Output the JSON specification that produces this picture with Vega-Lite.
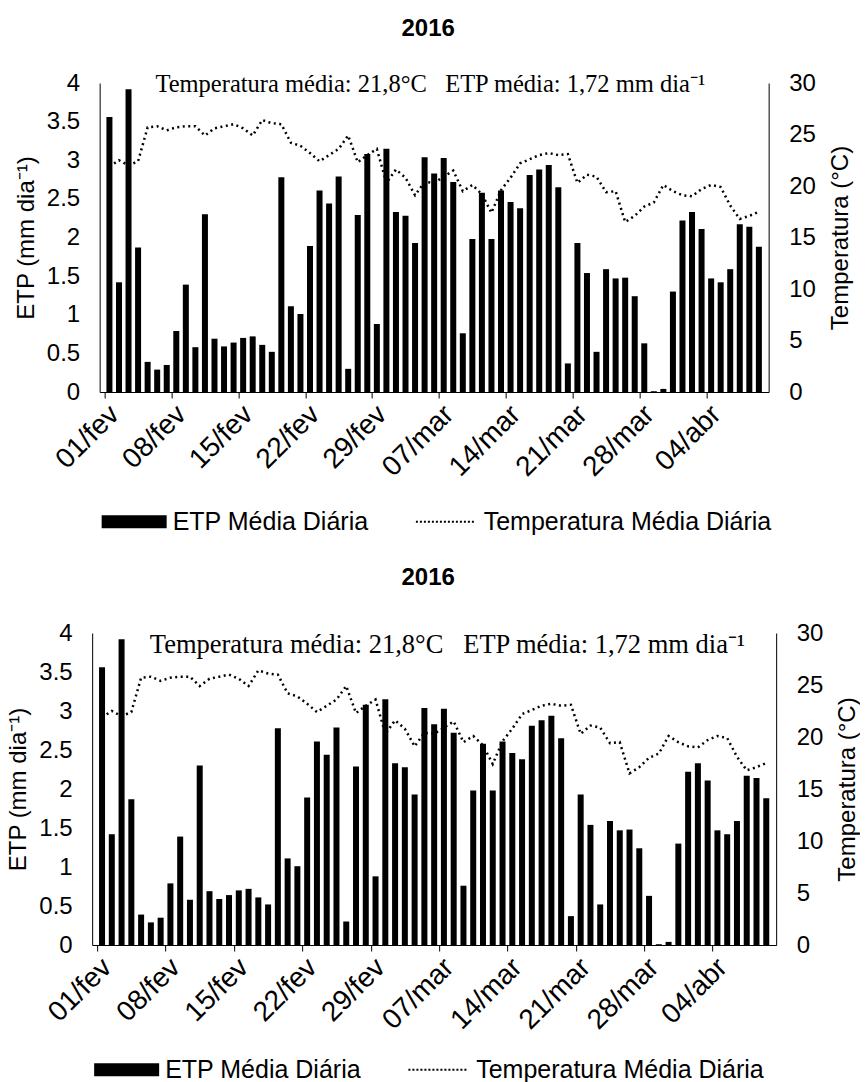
{
  "$schema": "https://vega.github.io/schema/vega-lite/v6.json",
  "padding": {"left": 6, "top": 17, "right": 0, "bottom": 0},
  "background": "white",
  "datasets": {
    "diario": [
      {"dia": 1, "data": "01/fev", "etp": 3.56, "temp": 21.9},
      {"dia": 2, "data": "02/fev", "etp": 1.42, "temp": 22.5},
      {"dia": 3, "data": "03/fev", "etp": 3.92, "temp": 22.0},
      {"dia": 4, "data": "04/fev", "etp": 1.87, "temp": 22.4},
      {"dia": 5, "data": "05/fev", "etp": 0.39, "temp": 25.7},
      {"dia": 6, "data": "06/fev", "etp": 0.29, "temp": 25.8},
      {"dia": 7, "data": "07/fev", "etp": 0.35, "temp": 25.4},
      {"dia": 8, "data": "08/fev", "etp": 0.79, "temp": 25.7},
      {"dia": 9, "data": "09/fev", "etp": 1.39, "temp": 25.8},
      {"dia": 10, "data": "10/fev", "etp": 0.58, "temp": 25.8},
      {"dia": 11, "data": "11/fev", "etp": 2.30, "temp": 24.9},
      {"dia": 12, "data": "12/fev", "etp": 0.69, "temp": 25.6},
      {"dia": 13, "data": "13/fev", "etp": 0.59, "temp": 25.8},
      {"dia": 14, "data": "14/fev", "etp": 0.64, "temp": 26.0},
      {"dia": 15, "data": "15/fev", "etp": 0.70, "temp": 25.6},
      {"dia": 16, "data": "16/fev", "etp": 0.72, "temp": 24.9},
      {"dia": 17, "data": "17/fev", "etp": 0.61, "temp": 26.4},
      {"dia": 18, "data": "18/fev", "etp": 0.52, "temp": 26.1},
      {"dia": 19, "data": "19/fev", "etp": 2.78, "temp": 26.0},
      {"dia": 20, "data": "20/fev", "etp": 1.11, "temp": 24.2},
      {"dia": 21, "data": "21/fev", "etp": 1.01, "temp": 23.9},
      {"dia": 22, "data": "22/fev", "etp": 1.89, "temp": 23.2},
      {"dia": 23, "data": "23/fev", "etp": 2.61, "temp": 22.4},
      {"dia": 24, "data": "24/fev", "etp": 2.44, "temp": 23.0},
      {"dia": 25, "data": "25/fev", "etp": 2.79, "temp": 23.6},
      {"dia": 26, "data": "26/fev", "etp": 0.30, "temp": 24.9},
      {"dia": 27, "data": "27/fev", "etp": 2.29, "temp": 22.3},
      {"dia": 28, "data": "28/fev", "etp": 3.08, "temp": 23.0},
      {"dia": 29, "data": "29/fev", "etp": 0.88, "temp": 23.6},
      {"dia": 30, "data": "01/mar", "etp": 3.15, "temp": 20.3},
      {"dia": 31, "data": "02/mar", "etp": 2.33, "temp": 21.6},
      {"dia": 32, "data": "03/mar", "etp": 2.28, "temp": 20.8},
      {"dia": 33, "data": "04/mar", "etp": 1.93, "temp": 19.1},
      {"dia": 34, "data": "05/mar", "etp": 3.04, "temp": 20.4},
      {"dia": 35, "data": "06/mar", "etp": 2.83, "temp": 20.3},
      {"dia": 36, "data": "07/mar", "etp": 3.03, "temp": 20.9},
      {"dia": 37, "data": "08/mar", "etp": 2.72, "temp": 21.5},
      {"dia": 38, "data": "09/mar", "etp": 0.76, "temp": 19.5},
      {"dia": 39, "data": "10/mar", "etp": 1.98, "temp": 20.1},
      {"dia": 40, "data": "11/mar", "etp": 2.58, "temp": 19.2},
      {"dia": 41, "data": "12/mar", "etp": 1.98, "temp": 17.4},
      {"dia": 42, "data": "13/mar", "etp": 2.61, "temp": 19.6},
      {"dia": 43, "data": "14/mar", "etp": 2.46, "temp": 20.8},
      {"dia": 44, "data": "15/mar", "etp": 2.38, "temp": 22.2},
      {"dia": 45, "data": "16/mar", "etp": 2.81, "temp": 22.6},
      {"dia": 46, "data": "17/mar", "etp": 2.88, "temp": 23.0},
      {"dia": 47, "data": "18/mar", "etp": 2.94, "temp": 23.2},
      {"dia": 48, "data": "19/mar", "etp": 2.65, "temp": 23.0},
      {"dia": 49, "data": "20/mar", "etp": 0.37, "temp": 23.1},
      {"dia": 50, "data": "21/mar", "etp": 1.93, "temp": 20.3},
      {"dia": 51, "data": "22/mar", "etp": 1.54, "temp": 21.1},
      {"dia": 52, "data": "23/mar", "etp": 0.52, "temp": 20.9},
      {"dia": 53, "data": "24/mar", "etp": 1.59, "temp": 19.4},
      {"dia": 54, "data": "25/mar", "etp": 1.47, "temp": 19.5},
      {"dia": 55, "data": "26/mar", "etp": 1.48, "temp": 16.5},
      {"dia": 56, "data": "27/mar", "etp": 1.24, "temp": 17.1},
      {"dia": 57, "data": "28/mar", "etp": 0.63, "temp": 18.0},
      {"dia": 58, "data": "29/mar", "etp": 0.01, "temp": 18.4},
      {"dia": 59, "data": "30/mar", "etp": 0.04, "temp": 20.1},
      {"dia": 60, "data": "31/mar", "etp": 1.30, "temp": 19.5},
      {"dia": 61, "data": "01/abr", "etp": 2.22, "temp": 19.1},
      {"dia": 62, "data": "02/abr", "etp": 2.33, "temp": 19.0},
      {"dia": 63, "data": "03/abr", "etp": 2.11, "temp": 19.7},
      {"dia": 64, "data": "04/abr", "etp": 1.47, "temp": 20.1},
      {"dia": 65, "data": "05/abr", "etp": 1.42, "temp": 19.9},
      {"dia": 66, "data": "06/abr", "etp": 1.59, "temp": 18.1},
      {"dia": 67, "data": "07/abr", "etp": 2.17, "temp": 16.8},
      {"dia": 68, "data": "08/abr", "etp": 2.14, "temp": 17.1},
      {"dia": 69, "data": "09/abr", "etp": 1.88, "temp": 17.5}
    ]
  },
  "vconcat": [
    {
      "width": 669,
      "height": 309,
      "title": {"text": "2016", "offset": 30, "dx": -6},
      "layer": [
        {
          "layer": [
            {
              "data": {"name": "diario"},
              "mark": {"type": "bar", "size": 6},
              "encoding": {
                "x": {"field": "dia", "type": "quantitative", "scale": {"domain": [0.5, 69.5], "nice": false, "zero": false},
                  "axis": {"title": null, "values": [0.5, 7.5, 14.5, 21.5, 28.5, 35.5, 42.5, 49.5, 56.5, 63.5], "labelExpr": "['01/fev','08/fev','15/fev','22/fev','29/fev','07/mar','14/mar','21/mar','28/mar','04/abr'][round((datum.value - 0.5) / 7)]", "labelAngle": -45, "tickSize": 6, "labelPadding": 2, "labelOverlap": false, "labelFontSize": 28}},
                "y": {"field": "etp", "type": "quantitative", "scale": {"domain": [0, 4], "nice": false},
                  "axis": {"title": "ETP (mm dia⁻¹)", "values": [0, 0.5, 1, 1.5, 2, 2.5, 3, 3.5, 4], "tickCount": 9, "format": "~g", "ticks": false, "labelPadding": 20, "titlePadding": 8, "labelOverlap": false}},
                "color": {"datum": "ETP Média Diária", "type": "nominal",
                  "scale": {"domain": ["ETP Média Diária", "Temperatura Média Diária"], "range": ["black", "black"]},
                  "legend": {"orient": "bottom", "direction": "horizontal", "title": null, "offset": 27, "labelFontSize": 25, "labelFont": "Liberation Sans", "labelColor": "black", "labelLimit": 0, "symbolSize": 4225, "symbolOffset": 22, "labelOffset": 26, "columnPadding": 42,
                    "encode": {"symbols": {"update": {
                      "shape": {"signal": "datum.value === 'ETP Média Diária' ? 'M-1,-0.2H1V0.2H-1Z' : 'M-0.9,0H0.9'"},
                      "fill": {"signal": "datum.value === 'ETP Média Diária' ? 'black' : 'transparent'"},
                      "stroke": {"value": "black"},
                      "strokeWidth": {"signal": "datum.value === 'ETP Média Diária' ? 0 : 2"},
                      "strokeDash": {"signal": "datum.value === 'ETP Média Diária' ? [1, 0] : [2, 2]"},
                      "opacity": {"value": 1}
                    }}}}}
              }
            },
            {
              "data": {"values": [{"texto": "Temperatura média: 21,8°C\u00a0\u00a0\u00a0ETP média: 1,72 mm dia⁻¹"}]},
              "mark": {"type": "text", "font": "Liberation Serif", "fontSize": 24.5, "baseline": "middle", "align": "center", "color": "black"},
              "encoding": {
                "x": {"datum": 34.6, "type": "quantitative"},
                "y": {"datum": 3.97, "type": "quantitative"},
                "text": {"field": "texto"}
              }
            }
          ]
        },
        {
          "data": {"name": "diario"},
          "mark": {"type": "line", "strokeDash": [2, 3.5], "strokeWidth": 2.5},
          "encoding": {
            "x": {"field": "dia", "type": "quantitative"},
            "y": {"field": "temp", "type": "quantitative", "scale": {"domain": [0, 30], "nice": false},
              "axis": {"title": "Temperatura (°C)", "orient": "right", "values": [0, 5, 10, 15, 20, 25, 30], "ticks": false, "labelPadding": 20, "titlePadding": 13, "titleAngle": 270, "titleBaseline": "top", "labelOverlap": false}},
            "color": {"datum": "Temperatura Média Diária", "type": "nominal"}
          }
        }
      ],
      "resolve": {"scale": {"y": "independent"}}
    },
    {
      "width": 684,
      "height": 312,
      "title": {"text": "2016", "offset": 31, "dx": -6},
      "layer": [
        {
          "layer": [
            {
              "data": {"name": "diario"},
              "mark": {"type": "bar", "size": 6},
              "encoding": {
                "x": {"field": "dia", "type": "quantitative", "scale": {"domain": [0.5, 69.5], "nice": false, "zero": false},
                  "axis": {"title": null, "values": [0.5, 7.5, 14.5, 21.5, 28.5, 35.5, 42.5, 49.5, 56.5, 63.5], "labelExpr": "['01/fev','08/fev','15/fev','22/fev','29/fev','07/mar','14/mar','21/mar','28/mar','04/abr'][round((datum.value - 0.5) / 7)]", "labelAngle": -45, "tickSize": 6, "labelPadding": 2, "labelOverlap": false, "labelFontSize": 28}},
                "y": {"field": "etp", "type": "quantitative", "scale": {"domain": [0, 4], "nice": false},
                  "axis": {"title": "ETP (mm dia⁻¹)", "values": [0, 0.5, 1, 1.5, 2, 2.5, 3, 3.5, 4], "tickCount": 9, "format": "~g", "ticks": false, "labelPadding": 20, "titlePadding": 8, "labelOverlap": false}},
                "color": {"datum": "ETP Média Diária", "type": "nominal",
                  "scale": {"domain": ["ETP Média Diária", "Temperatura Média Diária"], "range": ["black", "black"]},
                  "legend": {"orient": "bottom", "direction": "horizontal", "title": null, "offset": 22, "labelFontSize": 25, "labelFont": "Liberation Sans", "labelColor": "black", "labelLimit": 0, "symbolSize": 4225, "symbolOffset": 22, "labelOffset": 26, "columnPadding": 42,
                    "encode": {"symbols": {"update": {
                      "shape": {"signal": "datum.value === 'ETP Média Diária' ? 'M-1,-0.2H1V0.2H-1Z' : 'M-0.9,0H0.9'"},
                      "fill": {"signal": "datum.value === 'ETP Média Diária' ? 'black' : 'transparent'"},
                      "stroke": {"value": "black"},
                      "strokeWidth": {"signal": "datum.value === 'ETP Média Diária' ? 0 : 2"},
                      "strokeDash": {"signal": "datum.value === 'ETP Média Diária' ? [1, 0] : [2, 2]"},
                      "opacity": {"value": 1}
                    }}}}}
              }
            },
            {
              "data": {"values": [{"texto": "Temperatura média: 21,8°C\u00a0\u00a0\u00a0ETP média: 1,72 mm dia⁻¹"}]},
              "mark": {"type": "text", "font": "Liberation Serif", "fontSize": 26.5, "baseline": "middle", "align": "center", "color": "black"},
              "encoding": {
                "x": {"datum": 36.35, "type": "quantitative"},
                "y": {"datum": 3.84, "type": "quantitative"},
                "text": {"field": "texto"}
              }
            }
          ]
        },
        {
          "data": {"name": "diario"},
          "mark": {"type": "line", "strokeDash": [2, 3.5], "strokeWidth": 2.5},
          "encoding": {
            "x": {"field": "dia", "type": "quantitative"},
            "y": {"field": "temp", "type": "quantitative", "scale": {"domain": [0, 30], "nice": false},
              "axis": {"title": "Temperatura (°C)", "orient": "right", "values": [0, 5, 10, 15, 20, 25, 30], "ticks": false, "labelPadding": 20, "titlePadding": 13, "titleAngle": 270, "titleBaseline": "top", "labelOverlap": false}},
            "color": {"datum": "Temperatura Média Diária", "type": "nominal"}
          }
        }
      ],
      "resolve": {"scale": {"y": "independent"}}
    }
  ],
  "spacing": 31,
  "center": true,
  "resolve": {"scale": {"color": "independent"}, "legend": {"color": "independent"}},
  "config": {
    "view": {"stroke": null},
    "axis": {"grid": false, "labelOverlap": false, "domainColor": "black", "domainWidth": 1, "tickColor": "black", "labelColor": "black", "titleColor": "black", "labelFont": "Liberation Sans", "titleFont": "Liberation Sans", "labelFontSize": 24, "titleFontSize": 24, "titleFontWeight": "normal"},
    "title": {"font": "Liberation Sans", "fontSize": 24, "fontWeight": "bold", "color": "black"}
  }
}
